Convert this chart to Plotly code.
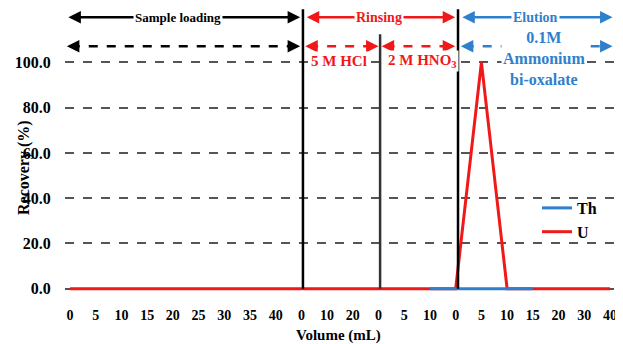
import plotly.graph_objects as go

# category tick labels along the x axis (sequence of volumes per stage)
tick_labels = ["0", "5", "10", "15", "20", "25", "30", "35", "40",
               "0", "10", "20",
               "0", "5", "10",
               "0", "5", "10", "15", "20", "30", "40"]
x_idx = list(range(len(tick_labels)))
u_vals = [0, 0, 0, 0, 0, 0, 0, 0, 0,
          0, 0, 0,
          0, 0, 0,
          0, 100, 0, 0, 0, 0, 0]
th_vals = [None, None, None, None, None, None, None, None, None,
           None, None, None,
           None, None, 0,
           0, 0, 0, 0, None, None, None]
y_ticks = [0, 20, 40, 60, 80, 100]
y_ticktext = ["0.0", "20.0", "40.0", "60.0", "80.0", "100.0"]

RED = "#f01818"
BLUE = "#2f80cc"
FONT = "Liberation Serif"

OFF = 8  # page body margin in the browser
L, R, T, B = 57, 3, 0, 53
W, H = 615, 336
pw, ph = W - L - R, H - T - B


def px(x):
    return (x - OFF - L) / pw


def py(y):
    return (H - B - (y - OFF)) / ph


fig = go.Figure()
fig.add_trace(go.Scatter(x=x_idx, y=u_vals, mode="lines", name="<b>U</b>", legendrank=2,
                         line=dict(color=RED, width=3)))
fig.add_trace(go.Scatter(x=x_idx, y=th_vals, mode="lines", name="<b>Th</b>", legendrank=1,
                         line=dict(color=BLUE, width=3)))

shapes = []
# stage separators
shapes.append(dict(type="line", xref="x", yref="y", x0=9.06, x1=9.06, y0=0, y1=123.5,
                   line=dict(color="black", width=2.5)))
shapes.append(dict(type="line", xref="x", yref="y", x0=12.06, x1=12.06, y0=0, y1=112.4,
                   line=dict(color="#333333", width=2.5)))
shapes.append(dict(type="line", xref="x", yref="y", x0=15.09, x1=15.09, y0=0, y1=123.5,
                   line=dict(color="black", width=2.5)))

annotations = []
Y1 = 119.9
Y2 = 107.1


def solid_arrow(x0, x1, y, color):
    annotations.append(dict(x=x1, y=y, ax=x0, ay=y, xref="x", yref="y", axref="x", ayref="y",
                            text="", showarrow=True, arrowhead=2, arrowsize=1, arrowwidth=2.5,
                            arrowcolor=color, arrowside="end+start", standoff=0, startstandoff=0))


def dashed_arrow(x0, x1, y, color):
    shapes.append(dict(type="line", xref="x", yref="y", x0=x0 + 0.15, x1=x1 - 0.15, y0=y, y1=y,
                       line=dict(color=color, width=2.5, dash="dash")))
    annotations.append(dict(x=x1, y=y, ax=x1 - 0.25, ay=y, xref="x", yref="y", axref="x", ayref="y",
                            text="", showarrow=True, arrowhead=2, arrowsize=1, arrowwidth=2.5,
                            arrowcolor=color, standoff=0))
    annotations.append(dict(x=x0, y=y, ax=x0 + 0.25, ay=y, xref="x", yref="y", axref="x", ayref="y",
                            text="", showarrow=True, arrowhead=2, arrowsize=1, arrowwidth=2.5,
                            arrowcolor=color, standoff=0))


solid_arrow(-0.12, 8.95, Y1, "black")
solid_arrow(9.15, 14.98, Y1, RED)
solid_arrow(15.2, 21.1, Y1, BLUE)
dashed_arrow(-0.12, 8.95, Y2, "black")
dashed_arrow(9.15, 12.0, Y2, RED)
dashed_arrow(12.12, 14.98, Y2, RED)
dashed_arrow(15.2, 21.1, Y2, BLUE)


def label(x, y, text, color, size=13, bg="white"):
    annotations.append(dict(x=x, y=y, xref="x", yref="y", text=text, showarrow=False,
                            font=dict(family=FONT, size=size, color=color), bgcolor=bg,
                            borderpad=1))


label(4.2, Y1, "<b>Sample loading</b>", "black", 13)
label(12.0, Y1, "<b>Rinsing</b>", RED, 14)
label(18.1, Y1, "<b>Elution</b>", BLUE, 14)
label(10.45, 100.4, "<b>5 M HCl</b>", RED, 15)
label(13.7, 100.4, "<b>2 M HNO<sub>3</sub></b>", RED, 15)
label(18.45, 101.8, "<b>0.1M<br>Ammonium<br>bi-oxalate</b>", BLUE, 16)

# y axis title (placed at reference pixel position)
annotations.append(dict(x=px(24), y=py(168), xref="paper", yref="paper",
                        xanchor="center", yanchor="middle",
                        text="<b>Recovery (%)</b>", showarrow=False, textangle=-90,
                        font=dict(family=FONT, size=16, color="black")))
# x axis title
annotations.append(dict(x=px(338), y=py(335), xref="paper", yref="paper",
                        xanchor="center", yanchor="middle",
                        text="<b>Volume (mL)</b>", showarrow=False,
                        font=dict(family=FONT, size=15, color="black")))

fig.update_layout(
    width=W, height=H,
    margin=dict(l=L, r=R, t=T, b=B, autoexpand=False),
    plot_bgcolor="white", paper_bgcolor="white",
    font=dict(family=FONT, size=13, color="black"),
    shapes=shapes, annotations=annotations,
    showlegend=True,
    legend=dict(x=px(537), y=py(191), xanchor="left", yanchor="top",
                bgcolor="rgba(255,255,255,0)", font=dict(family=FONT, size=16, color="black"),
                itemwidth=30),
    xaxis=dict(range=[-0.194, 21.39], tickmode="array", tickvals=x_idx,
               ticktext=["<b>%s</b>" % t for t in tick_labels],
               showgrid=False, zeroline=False, showline=False, automargin=False,
               ticks="outside", ticklen=11, tickcolor="rgba(0,0,0,0)",
               tickfont=dict(family=FONT, size=14)),
    yaxis=dict(range=[-1, 124], tickmode="array", tickvals=y_ticks,
               ticktext=["<b>%s</b>" % t for t in y_ticktext],
               showgrid=True, gridcolor="#555555", gridwidth=1.5, griddash="dash",
               zeroline=False, showline=False, automargin=False,
               ticks="outside", ticklen=10, tickcolor="rgba(0,0,0,0)",
               tickfont=dict(family=FONT, size=16)),
)

fig.write_html("out.html")
